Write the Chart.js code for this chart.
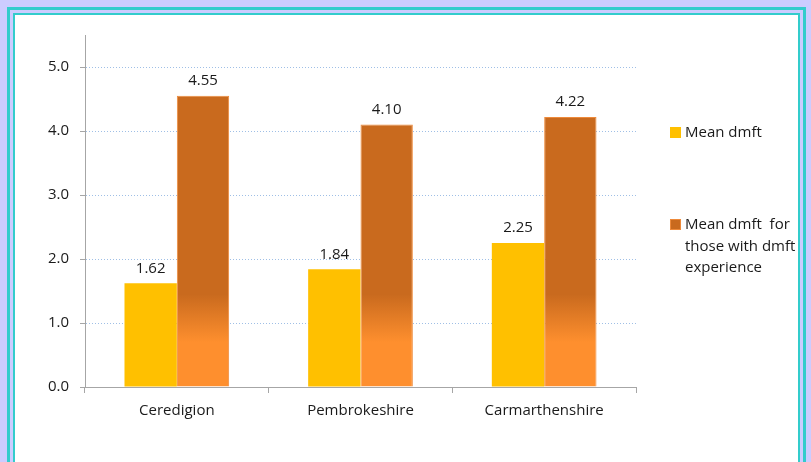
<!DOCTYPE html>
<html>
<head>
<meta charset="utf-8">
<script src="https://cdn.jsdelivr.net/npm/chart.js@4/dist/chart.umd.min.js"></script>
<style>
    html, body { margin: 0; padding: 0; }
    body { width: 811px; height: 462px; background: #ccccff; position: relative; overflow: hidden; }
    .outer { position: absolute; left: 7px; top: 7px; width: 793px; height: 470px; border: 3px solid #33cccc; }
    .inner { position: absolute; left: 3px; top: 3px; right: 3px; bottom: 3px; border: 2px solid #33cccc; background: #fff; }
    #chart { position: absolute; left: 0; top: 0; }
</style>
</head>
<body>
<div class="outer"><div class="inner"><canvas id="chart" width="783" height="447"></canvas></div></div>
<script>
const categories = ['Ceredigion', 'Pembrokeshire', 'Carmarthenshire'];
const meanDmft = [1.62, 1.84, 2.25];
const meanDmftExperience = [4.55, 4.10, 4.22];
const seriesNames = ['Mean dmft', ['Mean dmft  for', 'those with dmft', 'experience']];
const yTicks = [0, 1, 2, 3, 4, 5];

const font = "'Open Sans', 'Liberation Sans', sans-serif";
const textColor = '#1a1a1a';

// orange bars fade from dark to light near the bottom of the plot
function orangeFill(context) {
    const chart = context.chart;
    const y = chart.scales.y;
    if (!y || !chart.chartArea) {
        return '#c96a1e';
    }
    const g = chart.ctx.createLinearGradient(0, y.getPixelForValue(1.45), 0, y.getPixelForValue(0.7));
    g.addColorStop(0, '#c96a1e');
    g.addColorStop(1, '#fe8f2e');
    return g;
}

// light blue dotted gridlines, drawn from the y scale ticks
const dottedGrid = {
    id: 'dottedGrid',
    beforeDatasetsDraw(chart) {
        const ctx = chart.ctx;
        const area = chart.chartArea;
        const y = chart.scales.y;
        ctx.save();
        ctx.strokeStyle = '#9fbfe6';
        ctx.lineWidth = 1;
        ctx.setLineDash([1, 2]);
        y.ticks.forEach(t => {
            if (t.value === 0) return;
            const py = Math.round(y.getPixelForValue(t.value)) + 0.5;
            ctx.beginPath();
            ctx.moveTo(area.left + 1, py);
            ctx.lineTo(area.right, py);
            ctx.stroke();
        });
        ctx.restore();
    }
};

const valueLabels = {
    id: 'valueLabels',
    afterDatasetsDraw(chart) {
        const ctx = chart.ctx;
        ctx.save();
        ctx.font = '15px ' + font;
        ctx.fillStyle = textColor;
        ctx.textAlign = 'center';
        ctx.textBaseline = 'middle';
        chart.data.datasets.forEach((ds, i) => {
            chart.getDatasetMeta(i).data.forEach((bar, j) => {
                ctx.fillText(ds.data[j].toFixed(2), bar.x, bar.y - 15);
            });
        });
        ctx.restore();
    }
};

const sideLegend = {
    id: 'sideLegend',
    afterDraw(chart) {
        const ctx = chart.ctx;
        const items = [
            { y: 118, fill: '#ffc000', stroke: '#ffc000' },
            { y: 210, fill: '#c96a1e', stroke: '#ee8a3a' }
        ];
        ctx.save();
        ctx.font = '15px ' + font;
        ctx.textBaseline = 'middle';
        items.forEach((it, i) => {
            ctx.fillStyle = it.fill;
            ctx.fillRect(655, it.y - 6, 11, 11);
            ctx.strokeStyle = it.stroke;
            ctx.lineWidth = 1;
            ctx.strokeRect(655.5, it.y - 5.5, 10, 10);
            ctx.fillStyle = textColor;
            const lines = Array.isArray(seriesNames[i]) ? seriesNames[i] : [seriesNames[i]];
            lines.forEach((t, k) => ctx.fillText(t, 670, it.y + k * 21.5));
        });
        ctx.restore();
    }
};

new Chart(document.getElementById('chart').getContext('2d'), {
    type: 'bar',
    data: {
        labels: categories,
        datasets: [
            {
                label: 'Mean dmft',
                data: meanDmft,
                backgroundColor: '#ffc000',
                borderWidth: 0,
                categoryPercentage: 0.57,
                barPercentage: 1.0
            },
            {
                label: 'Mean dmft for those with dmft experience',
                data: meanDmftExperience,
                backgroundColor: orangeFill,
                borderColor: '#ee8a3a',
                borderWidth: 1,
                borderSkipped: 'bottom',
                categoryPercentage: 0.57,
                barPercentage: 1.0
            }
        ]
    },
    options: {
        responsive: false,
        animation: false,
        layout: {
            padding: { left: 0, top: 17, right: 162, bottom: 35 }
        },
        plugins: {
            legend: { display: false },
            tooltip: { enabled: false }
        },
        scales: {
            x: {
                offset: true,
                afterFit(scale) { scale.height = 40; },
                grid: {
                    offset: true,
                    drawOnChartArea: false,
                    tickLength: 6,
                    tickColor: '#a6a6a6'
                },
                border: { color: '#a6a6a6', width: 1 },
                ticks: {
                    color: textColor,
                    font: { family: font, size: 15 },
                    padding: 9
                }
            },
            y: {
                min: 0,
                max: 5.5,
                afterFit(scale) { scale.width = 70; },
                afterBuildTicks(scale) {
                    scale.ticks = yTicks.map(v => ({ value: v }));
                },
                grid: {
                    drawOnChartArea: false,
                    tickColor: '#a6a6a6',
                    tickLength: 5
                },
                border: { color: '#a6a6a6', width: 1 },
                ticks: {
                    color: textColor,
                    font: { family: font, size: 15 },
                    padding: 11,
                    callback: v => Number(v).toFixed(1)
                }
            }
        }
    },
    plugins: [dottedGrid, valueLabels, sideLegend]
});
</script>
</body>
</html>
